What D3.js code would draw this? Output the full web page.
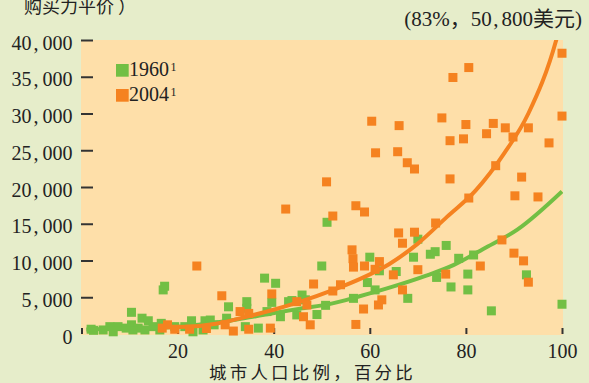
<!DOCTYPE html>
<html>
<head>
<meta charset="utf-8">
<script src="https://cdn.jsdelivr.net/npm/d3@7"></script>
<style>
  body { margin: 0; background: #e6edca; }
  svg { display: block; }
</style>
</head>
<body>
<svg id="chart" width="589" height="383"></svg>
<script>
// urban population share (%) vs GDP per capita (PPP, USD)
const points1960 = [
  [2.0, 650], [2.5, 500], [4.5, 550], [5.9, 1000], [6.6, 300], [7.6, 1000],
  [9.3, 800], [10.4, 1250], [10.7, 550], [10.4, 2950], [11.8, 800], [12.6, 2150],
  [13.2, 550], [13.9, 1800], [14.9, 1000], [16.3, 550], [16.6, 1450], [17.3, 6500],
  [17.0, 6000], [19.4, 1000], [21.5, 1000], [22.9, 1800], [23.2, 300], [25.3, 550],
  [25.7, 1800], [26.8, 1900], [27.6, 1250], [30.2, 2150], [30.6, 3700], [34.1, 1000],
  [34.4, 4400], [34.4, 3500], [36.8, 800], [38.1, 7600], [38.6, 3050], [39.6, 4300],
  [40.4, 6900], [41.4, 2350], [43.1, 4400], [43.8, 4550], [44.8, 2600], [45.9, 5300],
  [46.6, 4650], [49.0, 2650], [50.0, 9250], [50.8, 3900], [51.1, 15200], [56.6, 4850],
  [59.5, 7000], [60.0, 10450], [61.1, 6000], [62.0, 8600], [65.5, 8500], [67.9, 4850],
  [69.1, 10450], [70.0, 12900], [72.6, 10850], [73.6, 11200], [73.9, 7700], [75.9, 12050],
  [76.9, 6400], [78.5, 10300], [80.4, 8150], [80.4, 6000], [81.6, 10750], [85.3, 3150],
  [92.6, 8050], [100.0, 4050]
];
const points2004 = [
  [16.8, 800], [17.9, 1250], [19.4, 650], [22.5, 650], [24.0, 9250], [26.0, 750],
  [29.2, 5200], [29.9, 1250], [31.6, 400], [33.0, 3050], [34.8, 2800], [34.8, 650],
  [39.3, 800], [39.6, 5450], [42.5, 17000], [44.8, 4400], [46.9, 3950], [46.2, 2350],
  [47.6, 1250], [48.3, 6800], [51.0, 20700], [52.3, 16050], [52.3, 5850], [53.9, 6700],
  [56.3, 11450], [56.5, 10250], [56.6, 9100], [57.1, 17450], [57.1, 1300], [58.7, 3400],
  [58.9, 16600], [58.9, 9250], [60.4, 28950], [61.1, 8800], [61.2, 24650], [61.8, 3950],
  [62.0, 9850], [62.5, 4650], [64.9, 8050], [65.8, 24800], [66.0, 13750], [66.1, 28350],
  [66.8, 12350], [66.8, 6000], [67.8, 23300], [69.3, 22450], [69.3, 13850], [70.0, 8750],
  [73.7, 15100], [75.0, 29400], [75.8, 8150], [76.7, 26300], [76.7, 21100], [77.3, 34900],
  [79.5, 26550], [80.0, 28500], [80.6, 36250], [80.6, 18500], [83.0, 9250], [84.3, 27250],
  [85.7, 28650], [86.2, 22900], [87.5, 12800], [88.2, 28050], [89.8, 26800], [90.0, 11000],
  [90.2, 18800], [91.6, 21350], [92.0, 9950], [93.0, 28050], [93.0, 7050], [95.0, 18650],
  [97.3, 26000], [100.0, 29650], [100.0, 38200]
];
// trend curves
const trend1960 = [
  [1, 600], [12, 800], [20, 1000], [26, 1400], [32, 1950], [38.7, 2700], [45.5, 3450],
  [51.8, 4100], [57.7, 5100], [64.6, 6400], [71.6, 7900], [77.5, 9400], [83.7, 11600],
  [90.7, 14200], [100, 19400]
];
const trend2004 = [
  [16.5, 950], [22, 1000], [28, 1400], [34, 2300], [40, 3300], [46, 4500], [52, 5900],
  [58, 7500], [64, 9500], [70, 12300], [76, 15900], [82, 19500], [88, 24600],
  [93, 30000], [98.8, 40000], [100, 43000]
];
const yTicks = [0, 5000, 10000, 15000, 20000, 25000, 30000, 35000, 40000];
const xTicks = [0, 20, 40, 60, 80, 100];

const green = "#72bf44";
const orange = "#f58220";
const serif = "'Liberation Serif', 'Noto Sans CJK SC', serif";
const cjk = "'Noto Sans CJK SC', sans-serif";

const svg = d3.select("#chart");
const x = d3.scaleLinear().domain([0, 100]).range([81.5, 562]);
const y = d3.scaleLinear().domain([0, 40000]).range([334, 40]);

svg.append("rect")
  .attr("x", 81).attr("y", 40)
  .attr("width", 482).attr("height", 295)
  .attr("fill", "#fedfa9");

svg.append("clipPath").attr("id", "plotclip")
  .append("rect").attr("x", 81).attr("y", 40).attr("width", 482).attr("height", 295);

// split "40,000" so the comma gets some air, like the original
function spacedNumber(sel, s, dxComma, dxTail) {
  const parts = s.split(",");
  sel.text(null);
  if (parts.length === 1) { sel.text(s); return; }
  sel.append("tspan").text(parts[0]);
  sel.append("tspan").attr("dx", dxComma).text(",");
  sel.append("tspan").attr("dx", dxTail).text(parts[1]);
}

// y axis, ticks point into the plot
const yAxis = svg.append("g")
  .attr("transform", "translate(81,0)")
  .call(d3.axisLeft(y).tickValues(yTicks).tickSize(-12).tickPadding(8.5).tickFormat(d3.format(",")));
yAxis.select(".domain").remove();
yAxis.selectAll("line").attr("stroke", "#333").attr("stroke-width", 2)
  .filter(d => d === 0).remove();
yAxis.selectAll("text")
  .attr("fill", "#222")
  .style("font-family", serif)
  .style("font-size", "20px")
  .attr("dy", "0.46em")
  .each(function (d) {
    spacedNumber(d3.select(this), d3.format(",")(d), 2, 4);
  });

// x axis, short ticks upward
const xAxis = svg.append("g")
  .attr("transform", "translate(0,334)")
  .call(d3.axisBottom(x).tickValues(xTicks).tickSize(-6).tickPadding(9.5).tickFormat(d => d === 0 ? "" : d));
xAxis.select(".domain").remove();
xAxis.selectAll("line").attr("stroke", "#333").attr("stroke-width", 2);
xAxis.selectAll("text")
  .attr("fill", "#222")
  .style("font-family", serif)
  .style("font-size", "20px");

const line = d3.line()
  .x(d => x(d[0]))
  .y(d => y(d[1]))
  .curve(d3.curveMonotoneX);

const sq = 9;

svg.append("g").selectAll("rect")
  .data(points1960)
  .enter()
  .append("rect")
  .attr("x", d => x(d[0]) - sq / 2)
  .attr("y", d => y(d[1]) - sq / 2)
  .attr("width", sq).attr("height", sq)
  .attr("fill", green);

svg.append("path")
  .datum(trend1960)
  .attr("d", line)
  .attr("clip-path", "url(#plotclip)")
  .attr("fill", "none")
  .attr("stroke", green)
  .attr("stroke-width", 4);

svg.append("path")
  .datum(trend2004)
  .attr("d", line)
  .attr("clip-path", "url(#plotclip)")
  .attr("fill", "none")
  .attr("stroke", orange)
  .attr("stroke-width", 4);

svg.append("g").selectAll("rect")
  .data(points2004)
  .enter()
  .append("rect")
  .attr("x", d => x(d[0]) - sq / 2)
  .attr("y", d => y(d[1]) - sq / 2)
  .attr("width", sq).attr("height", sq)
  .attr("fill", orange);

// legend
const legend = [{ label: "1960", color: green, y: 64 }, { label: "2004", color: orange, y: 89 }];
legend.forEach(l => {
  svg.append("rect")
    .attr("x", 116).attr("y", l.y)
    .attr("width", 12.7).attr("height", 12.7)
    .attr("fill", l.color);
  const t = svg.append("text")
    .attr("x", 129).attr("y", l.y + 12.3)
    .attr("fill", "#222")
    .style("font-family", serif)
    .style("font-size", "20px");
  t.append("tspan").text(l.label);
  t.append("tspan").attr("dy", -5).attr("dx", 1.5).style("font-size", "12px").text("1");
});

// titles
const yTitle = svg.append("text")
  .attr("x", 24).attr("y", 13)
  .attr("fill", "#222")
  .style("font-family", cjk)
  .style("font-size", "18px");
yTitle.append("tspan").text("购买力平价");
yTitle.append("tspan").attr("dx", 4).text("）");

const note = svg.append("text")
  .attr("x", 582).attr("y", 26)
  .attr("text-anchor", "end")
  .attr("fill", "#222")
  .style("font-family", serif)
  .style("font-size", "21px");
note.append("tspan").text("(83%，50");
note.append("tspan").attr("dx", 1.5).text(",");
note.append("tspan").attr("dx", 3).text("800美元)");

svg.append("text")
  .attr("x", 209).attr("y", 378.5)
  .attr("fill", "#222")
  .style("font-family", cjk)
  .style("font-size", "17.5px")
  .style("letter-spacing", "3.2px")
  .text("城市人口比例，百分比");
</script>
</body>
</html>
